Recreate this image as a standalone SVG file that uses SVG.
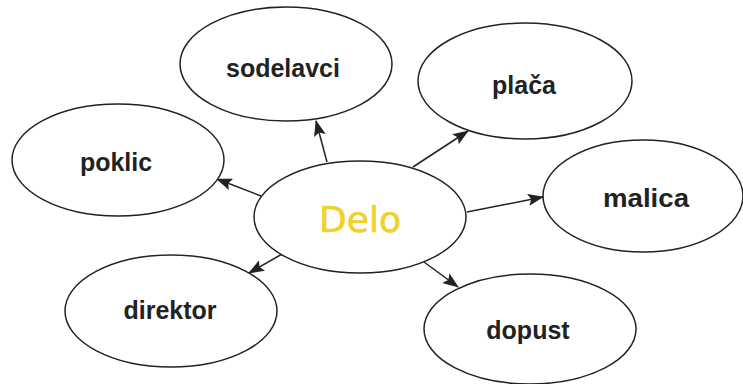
<svg xmlns="http://www.w3.org/2000/svg" width="743" height="384" viewBox="0 0 743 384">
<style>
.n{fill:#fff;stroke:#222;stroke-width:1.5}
.t{font-family:"Liberation Sans",Arial,sans-serif;font-weight:bold;font-size:25px;fill:#222;text-anchor:middle}
.c{stroke:#222;stroke-width:1.5;fill:none;marker-end:url(#ah)}
</style>
<defs>
<marker id="ah" markerWidth="16" markerHeight="12" refX="15" refY="6" orient="auto" markerUnits="userSpaceOnUse">
<path d="M0,0 L16,6 L0,12 L3,6 Z" fill="#222"/>
</marker>
</defs>
<rect width="743" height="384" fill="#fff"/>
<g id="connectors">
<line class="c" x1="327" y1="162" x2="316" y2="121"/>
<line class="c" x1="413" y1="167" x2="468" y2="131"/>
<line class="c" x1="261" y1="196" x2="217" y2="179"/>
<line class="c" x1="467" y1="212" x2="543" y2="197"/>
<line class="c" x1="282" y1="254" x2="249" y2="273"/>
<line class="c" x1="424" y1="262" x2="458" y2="287"/>
</g>
<g id="sodelavci"><ellipse class="n" cx="286" cy="64" rx="106" ry="57"/><text class="t" x="283" y="77">sodelavci</text></g>
<g id="placa"><ellipse class="n" cx="525" cy="81" rx="107" ry="58"/><text class="t" x="524" y="94">plača</text></g>
<g id="poklic"><ellipse class="n" cx="118" cy="160" rx="106" ry="56"/><text class="t" x="116" y="171">poklic</text></g>
<g id="delo"><ellipse class="n" cx="360" cy="217" rx="106" ry="56"/><text x="360" y="232" font-family="'DejaVu Sans',sans-serif" font-size="36" fill="#f0d22a" stroke="#f0d22a" stroke-width="0.6" text-anchor="middle">Delo</text></g>
<g id="malica"><ellipse class="n" cx="643" cy="196" rx="100" ry="56"/><text class="t" x="646" y="207" textLength="86" lengthAdjust="spacingAndGlyphs">malica</text></g>
<g id="direktor"><ellipse class="n" cx="171" cy="311" rx="106" ry="56"/><text class="t" x="170" y="319">direktor</text></g>
<g id="dopust"><ellipse class="n" cx="530" cy="329" rx="106" ry="55"/><text class="t" x="528" y="339">dopust</text></g>
</svg>
